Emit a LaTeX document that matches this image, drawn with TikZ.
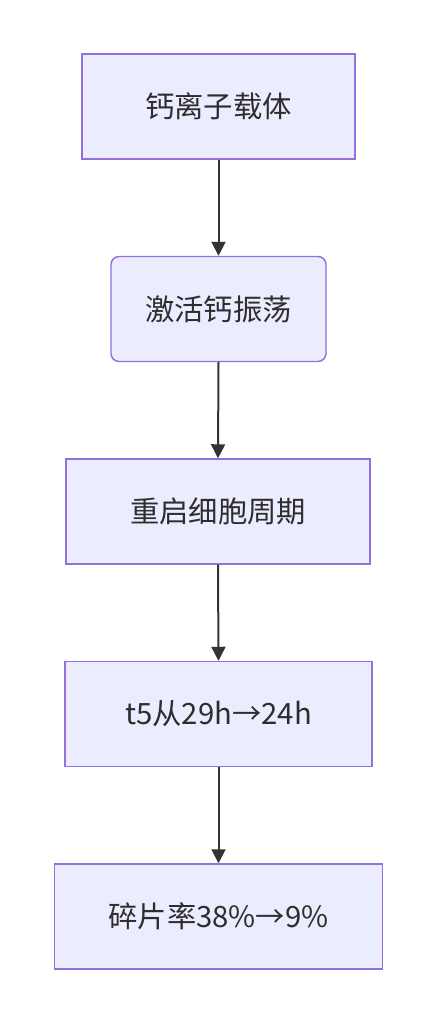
\documentclass[tikz,border=0pt]{standalone}
\usepackage{fontspec}
\setmainfont{Noto Sans CJK SC}
\usetikzlibrary{arrows.meta}
\definecolor{boxfill}{HTML}{ECECFF}
\definecolor{boxline}{HTML}{9370DB}
\definecolor{edge}{HTML}{333333}
\begin{document}
\begin{tikzpicture}[x=0.75pt,y=-0.75pt,
  box/.style={draw=boxline,fill=boxfill,line width=1.1pt,inner sep=0pt,text=edge!90!black,
    font=\fontsize{22}{26}\selectfont},
  rbox/.style={box,rounded corners=6pt},
  link/.style={draw=edge,line width=1.5pt,-{Triangle[length=10.5pt,width=10.5pt]}}]
\useasboundingbox (0,0) rectangle (436,1024);
\fill[white] (0,0) rectangle (436,1024);
\node[box,minimum width=273*0.75pt,minimum height=105*0.75pt] (a) at (218.5,106.5) {钙离子载体};
\node[rbox,minimum width=215*0.75pt,minimum height=105*0.75pt] (b) at (218.5,309) {激活钙振荡};
\node[box,minimum width=304*0.75pt,minimum height=105*0.75pt] (c) at (218,511.5) {重启细胞周期};
\node[box,minimum width=307*0.75pt,minimum height=105*0.75pt] (d) at (218.5,714) {t5从29h→24h};
\node[box,minimum width=328*0.75pt,minimum height=105*0.75pt] (e) at (218.5,916.5) {碎片率38\%→9\%};
\draw[link] (a.south) -- (b.north);
\draw[link] (b.south) -- (c.north);
\draw[link] (c.south) -- (d.north);
\draw[link] (d.south) -- (e.north);
\end{tikzpicture}
\end{document}
